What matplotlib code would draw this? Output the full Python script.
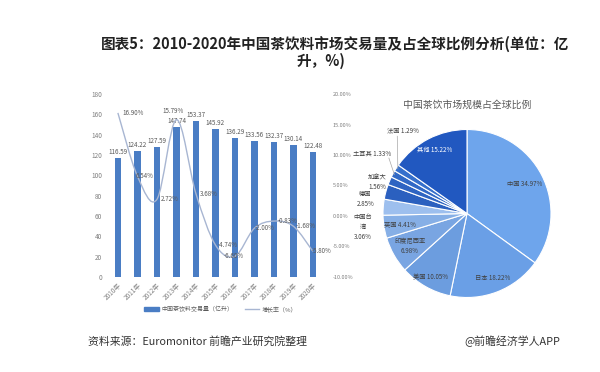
import matplotlib
matplotlib.use("Agg")
import matplotlib.pyplot as plt
import numpy as np
from matplotlib.path import Path
from matplotlib.patches import PathPatch, Patch
from matplotlib.lines import Line2D

plt.rcParams["font.family"] = ["Noto Sans CJK SC", "DejaVu Sans"]

# data
years = ["2010年", "2011年", "2012年", "2013年", "2014年", "2015年",
         "2016年", "2017年", "2018年", "2019年", "2020年"]
volume = [116.59, 124.22, 127.59, 147.74, 153.37, 145.92,
          136.29, 133.56, 132.37, 130.14, 122.48]
growth = [16.90, 6.54, 2.72, 15.79, 3.68, -4.74,
          -6.60, -2.00, -0.83, -1.68, -5.80]

regions = ["中国", "日本", "美国", "印度尼西亚", "英国", "中国台湾",
           "德国", "加拿大", "土耳其", "法国", "其他"]
shares = [34.97, 18.22, 10.05, 6.98, 4.41, 3.06, 2.85, 1.56, 1.33, 1.29, 15.22]

BAR = "#4a7dc4"
LINE = "#a8b6d2"
GRAY = "#7f7f7f"
TXT = "#595959"

fig = plt.figure(figsize=(6, 3.72), dpi=100)

fig.text(0.558, 0.882, "图表5：2010-2020年中国茶饮料市场交易量及占全球比例分析(单位：亿",
         ha="center", va="center", fontsize=10.5, fontweight="bold", color="#222222")
fig.text(0.535, 0.836, "升，%)", ha="center", va="center",
         fontsize=10.5, fontweight="bold", color="#222222")

# ---- left: bars + growth line
ax = fig.add_axes([0.177, 0.2554, 0.364, 0.4919])
x = np.arange(len(years))
ax.bar(x, volume, width=0.34, color=BAR, zorder=2)
ax.set_xlim(-0.6, len(years) - 0.4)
ax.set_ylim(0, 180)
ax.set_yticks(np.arange(0, 181, 20))
ax.set_xticks(x)
ax.set_xticklabels(years, rotation=45, ha="right", rotation_mode="anchor")
for s in ax.spines.values():
    s.set_visible(False)
ax.tick_params(length=0, labelsize=4.6, labelcolor=GRAY)
ax.tick_params(axis="y", pad=3)
ax.tick_params(axis="x", pad=3)
for xi, v in zip(x, volume):
    ax.text(xi, v + 2, f"{v:.2f}", ha="center", va="bottom", fontsize=4.5, color=TXT, zorder=4)

ax2 = ax.twinx()
ax2.set_ylim(-10, 20)
ax2.set_yticks(np.arange(-10, 21, 5))
ax2.set_yticklabels([f"{t:.2f}%" for t in np.arange(-10, 21, 5)])
for s in ax2.spines.values():
    s.set_visible(False)
ax2.tick_params(length=0, labelsize=4.0, labelcolor=GRAY, pad=6)

# smooth line (Catmull-Rom style Bezier through data points)
pts = np.column_stack([x, growth]).astype(float)
verts = [tuple(pts[0])]
codes = [Path.MOVETO]
n = len(pts)
for i in range(n - 1):
    p0 = pts[max(i - 1, 0)]
    p1 = pts[i]
    p2 = pts[i + 1]
    p3 = pts[min(i + 2, n - 1)]
    c1 = p1 + (p2 - p0) / 6
    c2 = p2 - (p3 - p1) / 6
    verts += [tuple(c1), tuple(c2), tuple(p2)]
    codes += [Path.CURVE4] * 3
ax2.add_patch(PathPatch(Path(verts, codes), fill=False, edgecolor=LINE, lw=1.0, zorder=3))

label_off = [(3, 0), (-1, 0), (3, 0), (-10, 6), (3, 0), (2, 0),
             (-8, 0), (0, 0), (3, 0), (2, 0), (-1, 0)]
for xi, g, (dx, dy) in zip(x, growth, label_off):
    ax2.annotate(f"{g:.2f}%", (xi, g), xytext=(dx, dy), textcoords="offset points",
                 ha="left", va="center", fontsize=4.5, color=TXT, zorder=5)

handles = [Patch(color=BAR), Line2D([], [], color=LINE, lw=1)]
fig.legend(handles, ["中国茶饮料交易量（亿升）", "增长率（%）"],
           loc="center", bbox_to_anchor=(0.368, 0.169), ncol=2, frameon=False,
           fontsize=4.3, labelcolor=TXT, handlelength=2.4, handleheight=0.6,
           columnspacing=2.0, handletextpad=0.4)

# ---- right: pie
pie_colors = ["#6ea5ec", "#6a9fe6", "#6c9ddf", "#79a5e2", "#86afe6", "#9dbfee",
              "#2b60bf", "#2e64c2", "#3169c6", "#3670cc", "#2158c0"]
pax = fig.add_axes([383 / 600, 1 - 297.5 / 372, 168 / 600, 168 / 372])
wedges, _ = pax.pie(shares, colors=pie_colors, startangle=90, counterclock=False,
                    wedgeprops=dict(edgecolor="white", linewidth=0.8))
pax.set_xlim(-1, 1)
pax.set_ylim(-1, 1)
pax.set_aspect("equal")

fig.text(467 / 600, 1 - 105 / 372, "中国茶饮市场规模占全球比例",
         ha="center", va="center", fontsize=7.1, color=TXT)

inside = {"中国": 0.77, "日本": 0.83, "美国": 0.87, "印度尼西亚": 0.78, "英国": 0.81, "其他": 0.85}
outside = {"中国台湾": (-1.24, -0.16, "中国台\n湾\n"), "德国": (-1.21, 0.17, "德国\n"),
           "加拿大": (-1.07, 0.37, "加拿大\n"), "土耳其": (-1.13, 0.71, "土耳其 "),
           "法国": (-0.76, 0.99, "法国 ")}
for w, name, s in zip(wedges, regions, shares):
    ang = np.deg2rad((w.theta1 + w.theta2) / 2)
    if name in inside:
        r = inside[name]
        lab = f"{name}\n{s:.2f}%" if name == "印度尼西亚" else f"{name} {s:.2f}%"
        pax.text(r * np.cos(ang), r * np.sin(ang), lab, ha="center", va="center",
                 fontsize=4.5, color="white" if name == "其他" else "#404040",
                 linespacing=1.3)
    else:
        lx, ly, prefix = outside[name]
        pax.text(lx, ly, f"{prefix}{s:.2f}%", ha="center", va="center",
                 fontsize=4.5, color="#404040", linespacing=1.3, clip_on=False)
        if name in ("土耳其", "法国"):
            ex, ey = np.cos(ang), np.sin(ang)
            sx = lx + (0.2 if name == "土耳其" else -0.07)
            sy = ly - (0.05 if name == "土耳其" else 0.07)
            pax.plot([sx, ex * 0.98], [sy, ey * 0.98], color="#a6a6a6", lw=0.5, clip_on=False)

fig.text(88 / 600, 1 - 341 / 372, "资料来源：Euromonitor 前瞻产业研究院整理",
         ha="left", va="center", fontsize=7.8, color="#333333")
fig.text(560 / 600, 1 - 341 / 372, "@前瞻经济学人APP",
         ha="right", va="center", fontsize=7.8, color="#333333")

fig.savefig("out.png", dpi=100)
